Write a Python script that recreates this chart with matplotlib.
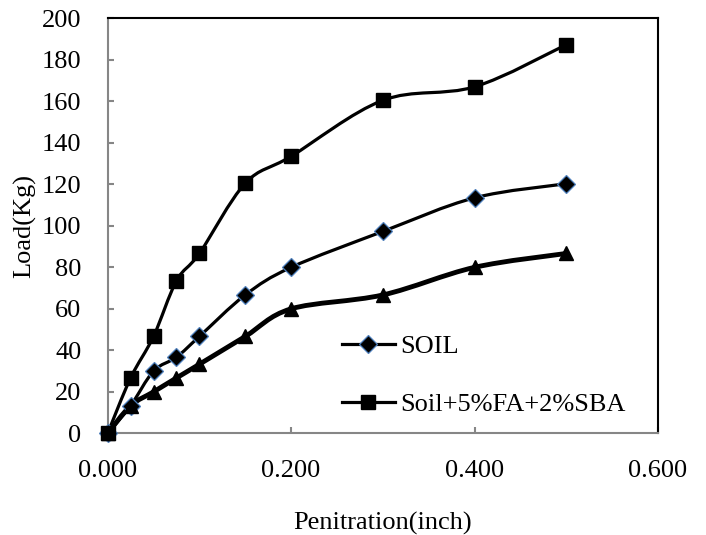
import numpy as np
from matplotlib import pyplot as plt
from matplotlib.path import Path
from matplotlib.patches import PathPatch
from matplotlib.lines import Line2D

plt.rcParams['font.family'] = ['Liberation Serif', 'DejaVu Serif']
plt.rcParams['font.size'] = 19

# penetration (inch)
penetration = [0.0, 0.025, 0.05, 0.075, 0.1, 0.15, 0.2, 0.3, 0.4, 0.5]
# load (kg)
soil = [0, 13.3, 30, 36.7, 46.7, 66.7, 80, 97.3, 113.5, 120.3]
soil_fa_sba = [0, 26.7, 46.7, 73.5, 86.7, 120.5, 133.5, 160.5, 167, 187.3]
third_mix = [0, 13.3, 20, 26.7, 33.3, 46.7, 60, 66.7, 80, 86.7]

legend_labels = ['SOIL', 'Soil+5%FA+2%SBA']
x_ticks = [0.0, 0.2, 0.4, 0.6]
y_ticks = list(range(0, 201, 20))


def smooth_path(xs, ys):
    # excel-like smoothed line: catmull-rom segments as cubic beziers
    p = np.column_stack([xs, ys]).astype(float)
    n = len(p)
    verts = [p[0]]
    codes = [Path.MOVETO]
    for i in range(n - 1):
        p0 = p[i - 1] if i > 0 else p[i]
        p1 = p[i]
        p2 = p[i + 1]
        p3 = p[i + 2] if i + 2 < n else p[i + 1]
        c1 = p1 + (p2 - p0) / 6.0
        c2 = p2 - (p3 - p1) / 6.0
        verts += [c1, c2, p2]
        codes += [Path.CURVE4] * 3
    return Path(verts, codes)


fig = plt.figure(figsize=(7.06, 5.35), dpi=100)
ax = fig.add_axes([0.1525, 0.19, 0.7795, 0.7757])

blue_edge = '#4F81BD'

ax.add_patch(PathPatch(smooth_path(penetration, soil), fill=False, lw=2.3,
                       edgecolor='black', zorder=2))
ax.add_patch(PathPatch(smooth_path(penetration, soil_fa_sba), fill=False, lw=2.3,
                       edgecolor='black', zorder=2))
ax.add_patch(PathPatch(smooth_path(penetration, third_mix), fill=False, lw=3.5,
                       edgecolor='black', zorder=2))

ax.plot(penetration, soil, ls='none', marker='D', ms=9, mfc='black',
        mec=blue_edge, mew=0.9, zorder=3, clip_on=False)
ax.plot(penetration, soil_fa_sba, ls='none', marker='s', ms=10, mfc='black',
        mec='black', zorder=3, clip_on=False)
ax.plot(penetration, third_mix, ls='none', marker='^', ms=10, mfc='black',
        mec='black', zorder=3, clip_on=False)

ax.set_xlim(0, 0.6)
ax.set_ylim(0, 200)
ax.set_xticks(x_ticks)
ax.set_xticklabels(['%.3f' % t for t in x_ticks])
ax.set_yticks(y_ticks)

for s in ['left', 'bottom']:
    ax.spines[s].set_color('#868686')
    ax.spines[s].set_linewidth(1.5)
for s in ['top', 'right']:
    ax.spines[s].set_color('black')
    ax.spines[s].set_linewidth(1.5)
ax.tick_params(direction='in', length=4.5, width=1.5, color='#868686', pad=19)

ax.set_xlabel('Penitration(inch)')
ax.set_ylabel('Load(Kg)')
ax.xaxis.set_label_coords(0.5, -0.19)
ax.yaxis.set_label_coords(-0.13, 0.5)

handles = [
    Line2D([], [], color='black', lw=2.3, marker='D', ms=9, mfc='black',
           mec=blue_edge, mew=0.9),
    Line2D([], [], color='black', lw=2.3, marker='s', ms=10, mfc='black',
           mec='black'),
]
ax.legend(handles, legend_labels, loc='upper left', bbox_to_anchor=(0.426, 0.238),
          frameon=False, borderpad=0, borderaxespad=0, handlelength=2.0,
          handletextpad=0.2, labelspacing=1.3)

plt.savefig('out.png', dpi=100)
